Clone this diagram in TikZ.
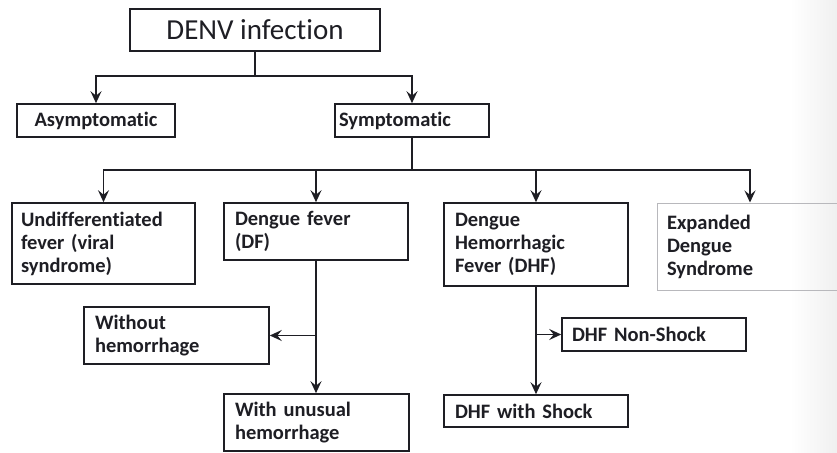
\documentclass[tikz,border=0pt]{standalone}
\usepackage{fontspec}
\setmainfont{Carlito}[RawFeature=-liga]
\usetikzlibrary{arrows.meta}
\definecolor{ink}{HTML}{1E1E24}
\definecolor{pale}{HTML}{B8B8BC}
\begin{document}
\begin{tikzpicture}[x=1pt,y=-1pt,
  box/.style={draw=ink,line width=1.6pt,rectangle,text=ink,align=left,inner ysep=0pt,
    font=\bfseries\fontsize{20.5}{23}\selectfont},
  conn/.style={draw=ink,line width=1.6pt},
  arr/.style={conn,-{Stealth[length=12pt,width=11pt,inset=4.5pt]}}]
\useasboundingbox[fill=white] (0,0) rectangle (837,452);
\fill[left color=white,right color=black!6] (790,0) rectangle (837,452);
% top
\node[box,font=\fontsize{29}{32}\selectfont,minimum width=250pt,minimum height=42pt,align=center] (denv) at (255,30) {DENV infection};
\node[box,minimum width=158pt,minimum height=33pt,text width=138pt,inner xsep=10pt,align=center] (asym) at (96,120.5) {Asymptomatic};
\node[box,minimum width=154pt,minimum height=33pt,text width=146pt,inner xsep=4pt] (symp) at (412,120.5) {Symptomatic};
% third row
\node[box,minimum width=183pt,minimum height=81pt,text width=165pt,inner xsep=9pt] (undiff) at (103.5,243.5) {Undifferentiated\\fever (viral\\syndrome)};
\node[box,minimum width=184pt,minimum height=57pt,text width=162pt,inner xsep=11pt] (df) at (316,231.5) {Dengue fever\\(DF)};
\node[box,minimum width=184pt,minimum height=83pt,text width=162pt,inner xsep=11pt] (dhf) at (536,244.5) {Dengue\\Hemorrhagic\\Fever (DHF)};
\node[box,draw=pale,line width=1pt,minimum width=186pt,minimum height=87pt,text width=166pt,inner xsep=10pt] (exp) at (750,246.5) {Expanded\\Dengue\\Syndrome};
% bottom
\node[box,minimum width=185pt,minimum height=57pt,text width=163pt,inner xsep=11pt] (without) at (176.5,335.5) {Without\\hemorrhage};
\node[box,minimum width=185pt,minimum height=57pt,text width=163pt,inner xsep=11pt] (withu) at (316.5,422.5) {With unusual\\hemorrhage};
\node[box,minimum width=184pt,minimum height=33pt,text width=164pt,inner xsep=10pt] (nonshock) at (654,334.5) {DHF Non-Shock};
\node[box,minimum width=184pt,minimum height=32pt,text width=162pt,inner xsep=11pt] (shock) at (536,411) {DHF with Shock};
% connectors
\coordinate (j1) at (255,76);
\coordinate (j2) at (412,170);
\draw[conn] (denv.south) -- (j1);
\draw[arr] (j1) -| (asym.north);
\draw[arr] (j1) -| (symp.north);
\draw[conn] (symp.south) -- (j2);
\draw[arr] (j2) -| (undiff.north);
\draw[arr] (j2) -| (df.north);
\draw[arr] (j2) -| (dhf.north);
\draw[arr] (j2) -| (exp.north);
\coordinate (b1) at (df.south |- without.east);
\coordinate (b2) at (dhf.south |- nonshock.west);
\draw[arr] (df.south) -- (df.south |- withu.north);
\draw[arr] (b1) -- (without.east);
\draw[arr] (dhf.south) -- (dhf.south |- shock.north);
\draw[arr] (b2) -- (nonshock.west);
\end{tikzpicture}
\end{document}
